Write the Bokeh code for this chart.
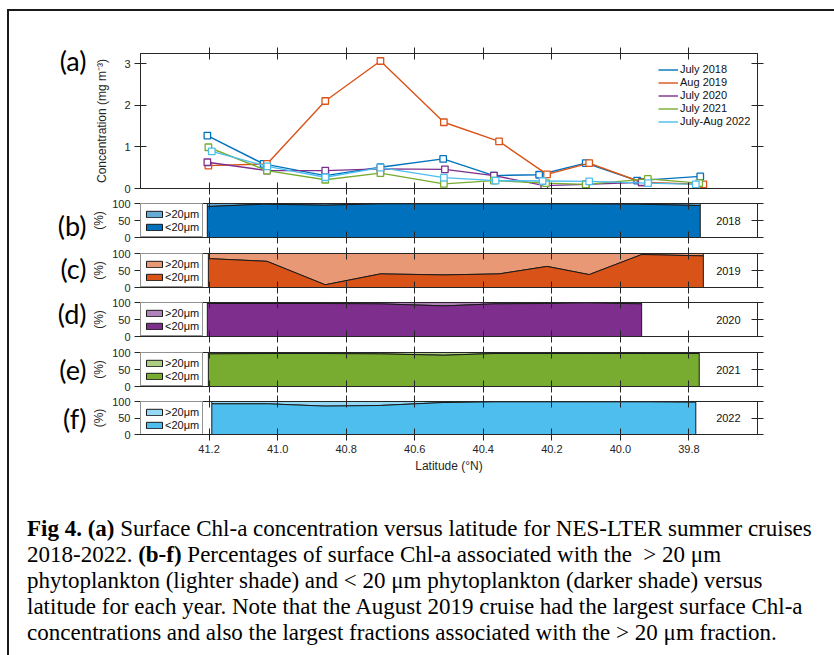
from bokeh.plotting import figure
from bokeh.models import (Range1d, LinearAxis, FixedTicker, Legend, LegendItem, Label,
                          PrintfTickFormatter, Div)
from bokeh.layouts import column
from bokeh.embed import file_html
from bokeh.resources import INLINE

# ---------------- data ----------------
series_names = ["July 2018", "Aug 2019", "July 2020", "July 2021", "July-Aug 2022"]
years = ["2018", "2019", "2020", "2021", "2022"]
panel_letters = ["(b)", "(c)", "(d)", "(e)", "(f)"]

lat_2018 = [41.205, 41.041, 40.861, 40.700, 40.517, 40.369, 40.237, 40.101, 39.951, 39.767]
chl_2018 = [1.27, 0.59, 0.31, 0.51, 0.71, 0.31, 0.33, 0.61, 0.19, 0.29]
lat_2019 = [41.202, 41.031, 40.861, 40.700, 40.515, 40.354, 40.214, 40.091, 39.938, 39.758]
chl_2019 = [0.55, 0.59, 2.10, 3.06, 1.59, 1.13, 0.34, 0.61, 0.15, 0.10]
lat_2020 = [41.205, 41.031, 40.861, 40.700, 40.512, 40.369, 40.222, 40.101, 39.938]
chl_2020 = [0.63, 0.43, 0.43, 0.47, 0.46, 0.31, 0.07, 0.10, 0.15]
lat_2021 = [41.202, 41.031, 40.861, 40.700, 40.515, 40.369, 40.217, 40.101, 39.920, 39.770]
chl_2021 = [0.99, 0.43, 0.21, 0.37, 0.11, 0.19, 0.13, 0.10, 0.23, 0.13]
lat_2022 = [41.192, 41.030, 40.861, 40.700, 40.515, 40.364, 40.227, 40.091, 39.919, 39.780]
chl_2022 = [0.89, 0.53, 0.27, 0.50, 0.26, 0.19, 0.18, 0.17, 0.13, 0.10]

# percentage of surface Chl-a in the < 20 um fraction (the rest is > 20 um)
pct_small_2018 = [91, 98, 95, 99, 99, 99, 99, 99, 98, 94]
pct_small_2019 = [85, 77, 8, 40, 37, 40, 62, 38, 97, 93]
pct_small_2020 = [97, 97, 97, 96, 90, 96, 97, 99, 96]
pct_small_2021 = [96, 97, 97, 96, 92, 97, 97, 97, 97, 97]
pct_small_2022 = [93, 93, 86, 88, 97, 99, 99, 99, 99, 98]

x_ticks = [41.2, 41.0, 40.8, 40.6, 40.4, 40.2, 40.0, 39.8]
conc_ticks = [0, 1, 2, 3]
pct_ticks = [0, 50, 100]

lats = [lat_2018, lat_2019, lat_2020, lat_2021, lat_2022]
chls = [chl_2018, chl_2019, chl_2020, chl_2021, chl_2022]
pcts = [pct_small_2018, pct_small_2019, pct_small_2020, pct_small_2021, pct_small_2022]

caption_html = (
    "<b>Fig 4. (a)</b> Surface Chl-a concentration versus latitude for NES-LTER summer cruises<br>"
    "2018-2022. <b>(b-f)</b> Percentages of surface Chl-a associated with the &nbsp;&gt; 20 \u03bcm<br>"
    "phytoplankton (lighter shade) and &lt; 20 \u03bcm phytoplankton (darker shade) versus<br>"
    "latitude for each year. Note that the August 2019 cruise had the largest surface Chl-a<br>"
    "concentrations and also the largest fractions associated with the &gt; 20 \u03bcm fraction."
)

# ---------------- styles ----------------
dark = ["#0072BD", "#D95319", "#7E2F8E", "#77AC30", "#4DBEEE"]


def lighten(h, f=0.4):
    r, g, b = int(h[1:3], 16), int(h[3:5], 16), int(h[5:7], 16)
    r, g, b = [int(round(c + (255 - c) * f)) for c in (r, g, b)]
    return "#%02x%02x%02x" % (r, g, b)


light = [lighten(c) for c in dark]
FONT = "Liberation Sans"
AX = "#262626"
LETTER_FONT = "Lato"
W = 825

xr = Range1d(41.4, 39.6)


def style_axis(ax, labels=True):
    ax.axis_line_color = AX
    ax.major_tick_line_color = AX
    ax.minor_tick_line_color = None
    ax.major_tick_in = 6
    ax.major_tick_out = 6
    ax.major_label_text_font = FONT
    ax.major_label_text_font_size = "11px" if labels else "0px"
    ax.major_label_text_color = AX if labels else None
    ax.major_label_standoff = 4 if labels else 0
    ax.axis_label_text_font = FONT
    ax.axis_label_text_font_style = "normal"
    ax.axis_label_text_font_size = "12px"
    ax.axis_label_text_color = AX


def letter_axis(p, txt, ypos, standoff):
    ax = LinearAxis(ticker=FixedTicker(ticks=[ypos]), major_label_overrides={ypos: txt})
    ax.axis_line_color = None
    ax.major_tick_line_color = None
    ax.minor_tick_line_color = None
    ax.major_tick_in = 0
    ax.major_tick_out = 0
    ax.major_label_standoff = standoff
    ax.major_label_text_font = LETTER_FONT
    ax.major_label_text_font_size = "27px"
    ax.major_label_text_color = "black"
    p.add_layout(ax, "left")


def make_fig(h, top, bottom, yr, yticks, xlabels=False, ylabel=None, ylabel_standoff=4):
    p = figure(width=W, height=h, x_range=xr, y_range=yr, output_backend="svg",
               toolbar_location=None, x_axis_location=None, y_axis_location=None,
               min_border_left=131, min_border_right=77, min_border_top=top,
               min_border_bottom=bottom)
    p.grid.visible = False
    p.outline_line_color = AX
    p.background_fill_color = "white"
    p.border_fill_color = "white"
    bx = LinearAxis(ticker=FixedTicker(ticks=x_ticks), formatter=PrintfTickFormatter(format="%.1f"))
    style_axis(bx, xlabels)
    if xlabels:
        bx.axis_label = "Latitude (\u00b0N)"
        bx.axis_label_standoff = 3
    tx = LinearAxis(ticker=FixedTicker(ticks=x_ticks))
    style_axis(tx, False)
    ly = LinearAxis(ticker=FixedTicker(ticks=yticks))
    style_axis(ly, True)
    if ylabel:
        ly.axis_label = ylabel
        ly.axis_label_standoff = ylabel_standoff
    ry = LinearAxis(ticker=FixedTicker(ticks=yticks))
    style_axis(ry, False)
    p.add_layout(bx, "below")
    p.add_layout(tx, "above")
    p.add_layout(ly, "left")
    p.add_layout(ry, "right")
    return p


# ---------------- panel (a) ----------------
pa = make_fig(184, 42, 7, Range1d(0, 3.24), conc_ticks,
              ylabel="Concentration (mg m\u207b\u00b3)", ylabel_standoff=12)
items = []
for name, la, ch, c in zip(series_names, lats, chls, dark):
    r = pa.line(la, ch, line_color=c, line_width=1.4)
    pa.scatter(la, ch, marker="square", size=6.5, line_color=c, fill_color="white", line_width=1.3)
    items.append(LegendItem(label=name, renderers=[r]))
leg = Legend(items=items, location=(518, 60.5), margin=0, padding=4, spacing=0,
             label_height=13, glyph_height=13, glyph_width=20, label_standoff=2,
             label_text_font=FONT, label_text_font_size="11px", label_text_color="#111111",
             border_line_color=None, background_fill_alpha=0)
pa.add_layout(leg)
letter_axis(pa, "(a)", 3.07, 6)

# ---------------- panels (b)-(f) ----------------
fig_specs = [(50, 8, 8), (49, 8, 7), (50, 8, 8), (49, 8, 7), (82, 8, 40)]
letter_pos = [34, 57, 69, 50, 50]
panels = []
for i in range(5):
    h, t, b = fig_specs[i]
    p = make_fig(h, t, b, Range1d(0, 100), pct_ticks, xlabels=(i == 4), ylabel="(%)", ylabel_standoff=3)
    la, pc = lats[i], pcts[i]
    lo_x = [la[0]] + la + [la[-1]]
    lo_y = [0] + pc + [0]
    up_x = la + la[::-1]
    up_y = pc + [100] * len(la)
    r_up = p.patch(up_x, up_y, fill_color=light[i], line_color="#1a1a1a", line_width=1)
    r_lo = p.patch(lo_x, lo_y, fill_color=dark[i], line_color="#1a1a1a", line_width=1)
    lg = Legend(items=[LegendItem(label=">20\u03bcm", renderers=[r_up]),
                       LegendItem(label="<20\u03bcm", renderers=[r_lo])],
                location="top_left", margin=0, padding=3, spacing=0,
                label_height=13, glyph_height=8, glyph_width=20, label_standoff=1,
                label_text_font=FONT, label_text_font_size="11px", label_text_color="#111111",
                border_line_color=AX, background_fill_color="white", background_fill_alpha=1)
    p.add_layout(lg)
    p.add_layout(Label(x=39.685, y=50, text=years[i], text_font=FONT, text_font_size="11px",
                       text_color="#111111", text_align="center", text_baseline="middle"))
    letter_axis(p, panel_letters[i], letter_pos[i], 3)
    panels.append(p)

# ---------------- caption ----------------
cap = Div(text=caption_html, width=W, height=180,
          styles={"font-family": "'Liberation Serif', 'Times New Roman', serif",
                  "font-size": "23px", "line-height": "26px", "color": "black",
                  "white-space": "nowrap", "padding-left": "13px", "padding-top": "36px",
                  "box-sizing": "border-box"})

layout = column([pa] + panels + [cap], spacing=0,
                styles={"margin-left": "7px", "margin-top": "9px",
                        "border-left": "2px solid #1a1a1a", "border-top": "2px solid #1a1a1a"})

open("out.html", "w").write(file_html(layout, INLINE))
